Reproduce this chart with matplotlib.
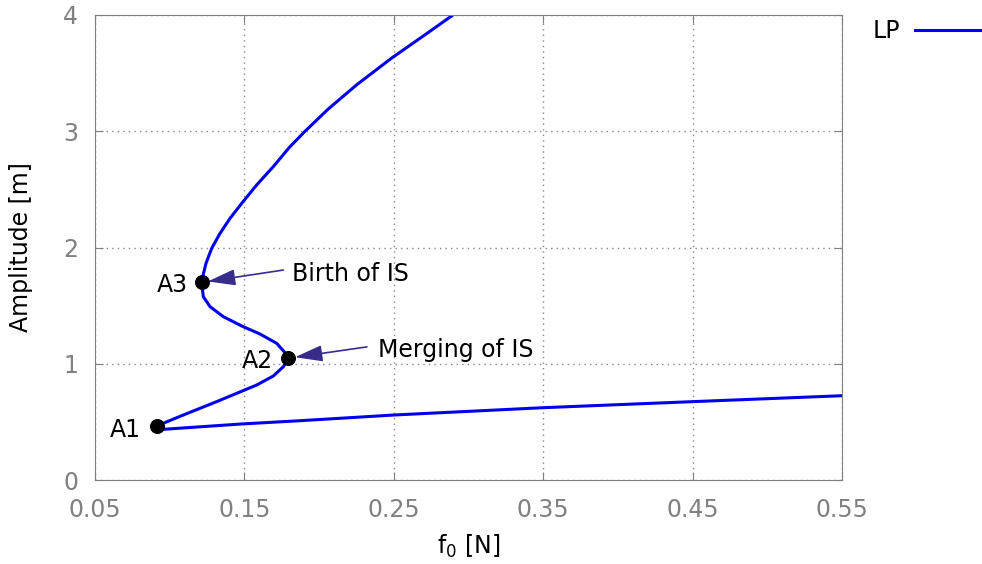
import matplotlib
matplotlib.use("Agg")
import matplotlib.pyplot as plt

# LP curve (f0 [N], amplitude [m])
f0 = [0.2896, 0.2698, 0.2486, 0.2252, 0.2060, 0.1906, 0.1800, 0.1693, 0.1582, 0.1482,
      0.1404, 0.1337, 0.1281, 0.1243, 0.1221, 0.1218, 0.1219, 0.1225, 0.1270, 0.1359,
      0.1482, 0.1604, 0.1716, 0.1772, 0.1794, 0.1761, 0.1694, 0.1582, 0.1314, 0.1091,
      0.0913, 0.0957, 0.1482, 0.1872, 0.25, 0.35, 0.45, 0.55]
amp = [4.0, 3.82, 3.63, 3.40, 3.19, 3.0, 2.86, 2.695, 2.538, 2.380,
       2.251, 2.122, 1.993, 1.864, 1.749, 1.701, 1.640, 1.577, 1.491, 1.405,
       1.325, 1.256, 1.176, 1.095, 1.047, 0.975, 0.895, 0.817, 0.674, 0.559,
       0.465, 0.436, 0.482, 0.510, 0.559, 0.622, 0.674, 0.725]

pt_names = ["A1", "A2", "A3"]
pt_x = [0.0913, 0.1794, 0.1218]
pt_y = [0.465, 1.050, 1.701]

xticks = [0.05, 0.15, 0.25, 0.35, 0.45, 0.55]
yticks = [0, 1, 2, 3, 4]

FS = 17
plt.rcParams["font.family"] = ["DejaVu Sans"]

fig = plt.figure(figsize=(9.82, 5.64), dpi=100)
ax = fig.add_axes([95/982, 1-480/564, (842-95)/982, (480-15)/564])

ax.plot(f0, amp, color="#0000ee", lw=2.2, label="LP",
        solid_joinstyle="round", solid_capstyle="round")
ax.plot(pt_x, pt_y, "o", color="black", ms=9.8, zorder=5)

ax.set_xlim(0.05, 0.55)
ax.set_ylim(0, 4)
ax.set_xticks(xticks)
ax.set_xticklabels([f"{v:.2f}" for v in xticks])
ax.set_yticks(yticks)
ax.grid(True, linestyle=(0, (1, 3)), color="#888888", lw=1)
for s in ax.spines.values():
    s.set_color("#808080")
ax.tick_params(direction="in", colors="#808080", labelsize=FS, length=6,
               top=True, right=True)
ax.tick_params(axis="x", pad=13)
ax.tick_params(axis="y", pad=12)
for lab in ax.get_xticklabels() + ax.get_yticklabels():
    lab.set_color("#808080")

ax.set_xlabel("f$_0$ [N]", fontsize=FS, labelpad=8)
ax.set_ylabel("Amplitude [m]", fontsize=FS, labelpad=22)

# point labels
lab_x = [0.0808, 0.1691, 0.1122]
lab_y = [0.43, 1.024, 1.677]
for n, x, y in zip(pt_names, lab_x, lab_y):
    ax.text(x, y, n, fontsize=FS, ha="right", va="center")

acol = "#372b8c"
astyle = "-|>,head_length=1.7,head_width=0.5"
ax.annotate("", xy=(0.1255, 1.708), xytext=(0.1760, 1.806),
            arrowprops=dict(arrowstyle=astyle, color=acol, lw=1.2,
                            shrinkA=0, shrinkB=0))
ax.text(0.1819, 1.772, "Birth of IS", fontsize=FS, ha="left", va="center")
ax.annotate("", xy=(0.1838, 1.056), xytext=(0.2320, 1.145),
            arrowprops=dict(arrowstyle=astyle, color=acol, lw=1.2,
                            shrinkA=0, shrinkB=0))
ax.text(0.2394, 1.118, "Merging of IS", fontsize=FS, ha="left", va="center")

# legend outside right
fig.text(873/982, 1-31/564, "LP", fontsize=FS, ha="left", va="center")
fig.add_artist(plt.Line2D([915/982, 980/982], [1-30/564, 1-30/564],
                          color="#0000ee", lw=2.2, transform=fig.transFigure))

fig.savefig("out.png", dpi=100)
